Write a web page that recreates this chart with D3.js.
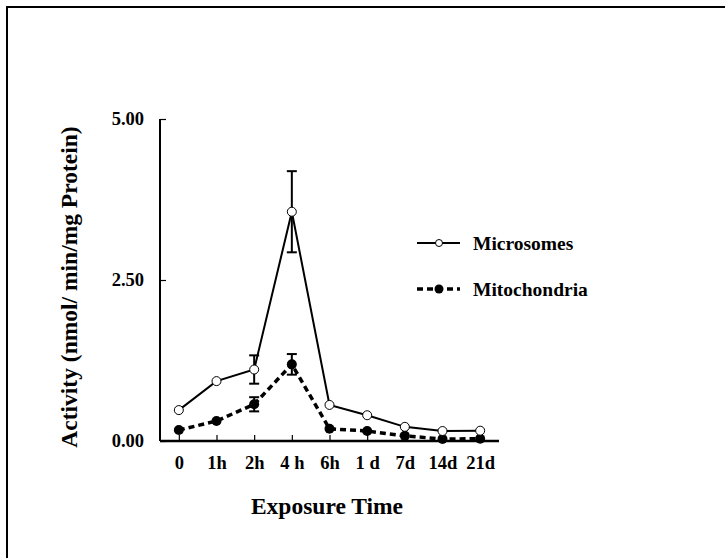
<!DOCTYPE html>
<html>
<head>
<meta charset="utf-8">
<script src="https://cdn.jsdelivr.net/npm/d3@7"></script>
<style>
  html, body { margin: 0; padding: 0; background: #fff; }
  svg { display: block; }
  text { font-family: "Liberation Serif", "Times New Roman", serif; font-weight: bold; fill: #000; }
</style>
</head>
<body>
<svg id="chart" width="725" height="558"></svg>
<script>
const categories = ["0", "1h", "2h", "4 h", "6h", "1 d", "7d", "14d", "21d"];
const microsomes = [0.48, 0.93, 1.11, 3.56, 0.56, 0.40, 0.22, 0.155, 0.16];
const microsomesErr = [0, 0, 0.22, 0.63, 0, 0, 0, 0, 0];
const mitochondria = [0.17, 0.31, 0.57, 1.19, 0.19, 0.155, 0.08, 0.03, 0.035];
const mitochondriaErr = [0, 0, 0.11, 0.16, 0, 0, 0, 0, 0];
const yTicks = [0, 2.5, 5];
const seriesNames = ["Microsomes", "Mitochondria"];

const svg = d3.select("#chart");

// outer frame (clipped on right and bottom)
svg.append("path")
  .attr("d", "M7,560 V7 H727")
  .attr("fill", "none").attr("stroke", "#000").attr("stroke-width", 2);

const x = d3.scalePoint().domain(categories).range([160, 499]).padding(0.5);
const y = d3.scaleLinear().domain([0, 5]).range([441, 119]);

// axes
const yAxis = d3.axisLeft(y).tickValues(yTicks).tickFormat(d3.format(".2f")).tickSizeInner(-6).tickSizeOuter(0).tickPadding(16);
const gy = svg.append("g").attr("transform", "translate(160,0)").call(yAxis);
gy.select(".domain").attr("stroke", "#000").attr("stroke-width", 2).attr("d", "M0,441V119");
gy.selectAll(".tick line").attr("stroke", "#000").attr("stroke-width", 1.2);
gy.selectAll(".tick text").style("font-size", "18.5px").style("font-family", "Liberation Serif").style("font-weight", "bold").attr("fill", "#000");

const xAxis = d3.axisBottom(x).tickSizeInner(-6).tickSizeOuter(0).tickPadding(15);
const gx = svg.append("g").attr("transform", "translate(0,441)").call(xAxis);
gx.select(".domain").attr("stroke", "#000").attr("stroke-width", 2.5).attr("d", "M160,0H499");
gx.selectAll(".tick line").attr("stroke", "#000").attr("stroke-width", 1.2);
gx.selectAll(".tick text").style("font-size", "18.5px").style("font-family", "Liberation Serif").style("font-weight", "bold").attr("fill", "#000");

// axis titles
svg.append("text")
  .attr("transform", "translate(77,287) rotate(-90)")
  .attr("text-anchor", "middle")
  .style("font-size", "23.5px")
  .text("Activity (nmol/ min/mg Protein)");
svg.append("text")
  .attr("x", 327).attr("y", 514)
  .attr("text-anchor", "middle")
  .style("font-size", "23.5px")
  .text("Exposure Time");

const line = d3.line().x((d, i) => x(categories[i])).y(d => y(d));

// error bars
function errorBars(vals, errs) {
  const g = svg.append("g");
  vals.forEach((v, i) => {
    if (!errs[i]) return;
    const cx = x(categories[i]);
    const y1 = y(v + errs[i]), y2 = y(v - errs[i]);
    g.append("line").attr("x1", cx).attr("x2", cx).attr("y1", y1).attr("y2", y2).attr("stroke", "#000").attr("stroke-width", 2);
    [y1, y2].forEach(yy => g.append("line").attr("x1", cx - 5).attr("x2", cx + 5).attr("y1", yy).attr("y2", yy).attr("stroke", "#000").attr("stroke-width", 2));
  });
}
errorBars(microsomes, microsomesErr);
errorBars(mitochondria, mitochondriaErr);

// Mitochondria series (dashed, filled)
svg.append("path").datum(mitochondria).attr("d", line)
  .attr("fill", "none").attr("stroke", "#000").attr("stroke-width", 3.5).attr("stroke-dasharray", "6,4");
svg.append("g").selectAll("circle").data(mitochondria).join("circle")
  .attr("cx", (d, i) => x(categories[i])).attr("cy", d => y(d)).attr("r", 5).attr("fill", "#000");

// Microsomes series (solid, open)
svg.append("path").datum(microsomes).attr("d", line)
  .attr("fill", "none").attr("stroke", "#000").attr("stroke-width", 2);
svg.append("g").selectAll("circle").data(microsomes).join("circle")
  .attr("cx", (d, i) => x(categories[i])).attr("cy", d => y(d)).attr("r", 4.5)
  .attr("fill", "#fff").attr("stroke", "#000").attr("stroke-width", 1);

// legend
const leg = svg.append("g");
const legY = [243, 289];
seriesNames.forEach((name, i) => {
  const ly = legY[i];
  const ln = leg.append("line").attr("x1", 417).attr("x2", 460).attr("y1", ly).attr("y2", ly).attr("stroke", "#000");
  if (i === 0) {
    ln.attr("stroke-width", 2);
    leg.append("circle").attr("cx", 439).attr("cy", ly).attr("r", 3.5).attr("fill", "#fff").attr("stroke", "#000").attr("stroke-width", 1);
  } else {
    ln.attr("stroke-width", 3.5).attr("stroke-dasharray", "6,4");
    leg.append("circle").attr("cx", 439).attr("cy", ly).attr("r", 4.5).attr("fill", "#000");
  }
  leg.append("text").attr("x", 473).attr("y", ly + 7).style("font-size", "19.5px").text(name);
});
</script>
</body>
</html>
